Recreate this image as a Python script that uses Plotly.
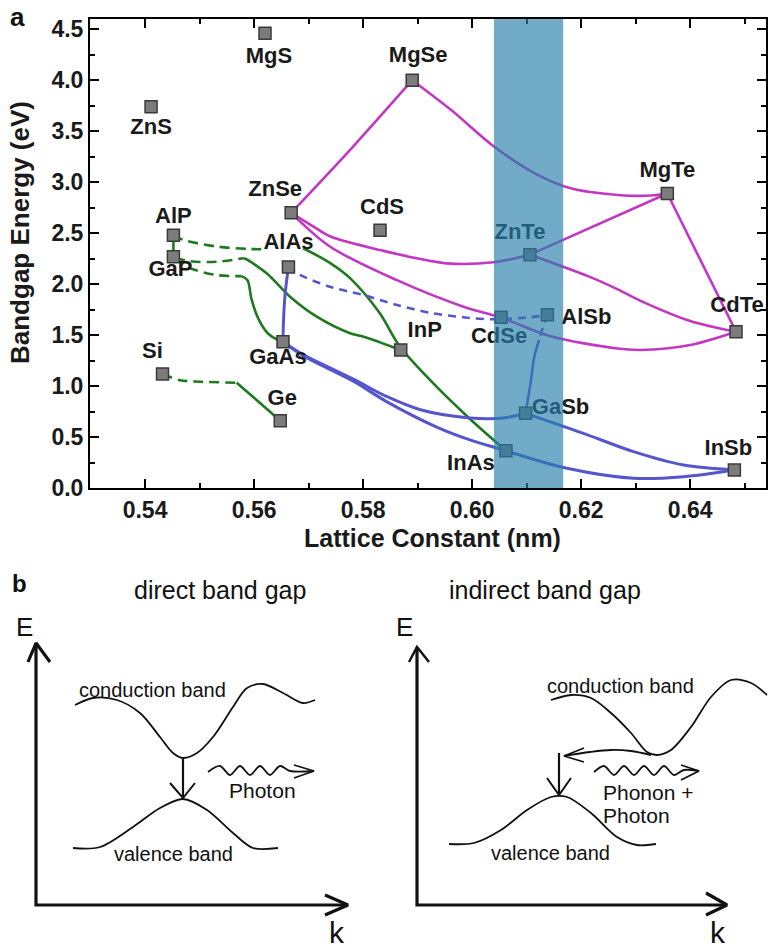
import plotly.graph_objects as go

# ---------------- data: panel a ----------------
names = ["MgS", "ZnS", "MgSe", "MgTe", "ZnSe", "CdS", "AlP", "GaP", "AlAs", "ZnTe",
         "CdSe", "AlSb", "CdTe", "InP", "GaAs", "Si", "Ge", "GaSb", "InAs", "InSb"]
lattice = [0.5620, 0.5411, 0.5890, 0.6358, 0.5668, 0.5831, 0.5452, 0.5452, 0.5663, 0.6106,
           0.6053, 0.6138, 0.6484, 0.5869, 0.5653, 0.5432, 0.5648, 0.6098, 0.6062, 0.6481]
bandgap = [4.46, 3.74, 4.00, 2.89, 2.70, 2.53, 2.48, 2.27, 2.17, 2.29,
           1.676, 1.70, 1.535, 1.356, 1.437, 1.12, 0.663, 0.735, 0.369, 0.18]

# label offsets in pixels (dx right, dy up) from each marker
label_dx = [4, 0, 6, 0, -16, 2, 0, -3, 0, -10, -2, 39, 1, 24, -5, -10, 2, 35, -35, -6]
label_dy = [-24, -22, 24, 22, 22, 22, 18, -14, 23, 21, -20, -4, 25, 18, -17, 22, 21, 5, -14, 20]

# magenta (II-VI) curves
m_znse_mgse_x = [0.5668, 0.5780, 0.5890]
m_znse_mgse_y = [2.70, 3.34, 4.00]
m_mgse_mgte_x = [0.5890, 0.5961, 0.6040, 0.6114, 0.6181, 0.6267, 0.6328, 0.6358]
m_mgse_mgte_y = [4.00, 3.71, 3.35, 3.09, 2.94, 2.875, 2.87, 2.89]
m_znse_znte_x = [0.5668, 0.5709, 0.5739, 0.5831, 0.5954, 0.6039, 0.6106]
m_znse_znte_y = [2.70, 2.565, 2.47, 2.335, 2.205, 2.215, 2.29]
m_znse_cdte_x = [0.5668, 0.5739, 0.5862, 0.5984, 0.6055, 0.6144, 0.6267, 0.6308, 0.6400, 0.6484]
m_znse_cdte_y = [2.70, 2.37, 2.04, 1.78, 1.67, 1.49, 1.37, 1.356, 1.405, 1.535]
m_znte_mgte_x = [0.6106, 0.6358]
m_znte_mgte_y = [2.29, 2.89]
m_znte_cdte_x = [0.6106, 0.6217, 0.6267, 0.6308, 0.6400, 0.6484]
m_znte_cdte_y = [2.29, 2.07, 1.95, 1.84, 1.64, 1.535]
m_mgte_cdte_x = [0.6358, 0.6484]
m_mgte_cdte_y = [2.89, 1.535]

# green curves (solid = direct, dashed = indirect)
g_alp_gap_x = [0.5452, 0.5452]
g_alp_gap_y = [2.48, 2.27]
g_alp_dash_x = [0.5452, 0.5470, 0.5531, 0.5593, 0.5625]
g_alp_dash_y = [2.48, 2.435, 2.37, 2.345, 2.345]
g_alas_inas_x = [0.5690, 0.5739, 0.5776, 0.5830, 0.5866, 0.5923, 0.5996, 0.6062]
g_alas_inas_y = [2.353, 2.21, 2.06, 1.72, 1.40, 1.06, 0.68, 0.369]
g_gap_dash1_x = [0.5455, 0.5483, 0.5531, 0.5580]
g_gap_dash1_y = [2.26, 2.225, 2.22, 2.255]
g_gap_inp_x = [0.5580, 0.5584, 0.5623, 0.5666, 0.5715, 0.5776, 0.5801, 0.5869]
g_gap_inp_y = [2.255, 2.25, 2.108, 1.878, 1.682, 1.52, 1.486, 1.356]
g_gap_dash2_x = [0.5455, 0.5483, 0.5531, 0.5577]
g_gap_dash2_y = [2.25, 2.157, 2.09, 2.08]
g_gap_gaas_x = [0.5577, 0.5588, 0.5595, 0.5608, 0.5625, 0.5645, 0.5653]
g_gap_gaas_y = [2.08, 2.04, 1.86, 1.66, 1.52, 1.45, 1.437]
g_si_dash_x = [0.5432, 0.5464, 0.5501, 0.5568]
g_si_dash_y = [1.12, 1.06, 1.045, 1.035]
g_si_ge_x = [0.5568, 0.5648]
g_si_ge_y = [1.035, 0.663]

# blue curves
b_alas_gaas_x = [0.5663, 0.5657, 0.5654, 0.5653]
b_alas_gaas_y = [2.17, 1.91, 1.65, 1.437]
b_alas_alsb_x = [0.5663, 0.5678, 0.5739, 0.5800, 0.5862, 0.5923, 0.5984, 0.6033, 0.6106, 0.6138]
b_alas_alsb_y = [2.17, 2.108, 1.976, 1.895, 1.797, 1.72, 1.676, 1.657, 1.676, 1.70]
b_alsb_dash_x = [0.6138, 0.6132, 0.6123]
b_alsb_dash_y = [1.70, 1.617, 1.454]
b_alsb_gasb_x = [0.6123, 0.6114, 0.6108, 0.6101, 0.6098]
b_alsb_gasb_y = [1.454, 1.29, 1.06, 0.833, 0.735]
b_gaas_gasb_x = [0.5653, 0.5690, 0.5782, 0.5843, 0.5905, 0.5996, 0.6058, 0.6098]
b_gaas_gasb_y = [1.437, 1.31, 1.07, 0.90, 0.77, 0.69, 0.69, 0.735]
b_gaas_inas_x = [0.5653, 0.5690, 0.5782, 0.5843, 0.5935, 0.5996, 0.6062]
b_gaas_inas_y = [1.437, 1.30, 1.05, 0.85, 0.60, 0.474, 0.369]
b_inas_insb_x = [0.6062, 0.6174, 0.6296, 0.6388, 0.6481]
b_inas_insb_y = [0.369, 0.196, 0.098, 0.114, 0.18]
b_gasb_insb_x = [0.6098, 0.6204, 0.6296, 0.6388, 0.6481]
b_gasb_insb_y = [0.735, 0.539, 0.359, 0.228, 0.18]

band_x0, band_x1 = 0.6040, 0.6167

x_ticks = [0.54, 0.56, 0.58, 0.60, 0.62, 0.64]
y_ticks = [0.0, 0.5, 1.0, 1.5, 2.0, 2.5, 3.0, 3.5, 4.0, 4.5]

# ---------------- data: panel b (schematic, drawing units) ----------------
d_cb_x = [75, 93, 117, 140, 160, 173, 183, 197, 213, 233, 247, 263, 283, 303, 315]
d_cb_y = [705, 698, 700, 713, 737, 753, 758, 753, 737, 707, 688, 684, 693, 703, 700]
d_vb_x = [73, 100, 133, 160, 183, 207, 233, 253, 278]
d_vb_y = [848, 847, 827, 808, 799, 810, 833, 848, 848]
d_wave_x = [208, 220, 230, 240, 250, 260, 270, 280, 290, 314]
d_wave_y = [772, 766, 775, 766, 775, 766, 775, 766, 771, 771]
i_cb_x = [551, 571, 591, 611, 631, 647, 657, 671, 691, 711, 731, 751, 767]
i_cb_y = [700, 695, 698, 713, 733, 752, 755, 750, 727, 697, 680, 683, 695]
i_vb_x = [449, 474, 501, 527, 551, 567, 591, 617, 637, 656]
i_vb_y = [844, 843, 830, 810, 797, 797, 813, 837, 845, 844]
i_wave_x = [594, 604, 614, 624, 634, 644, 654, 664, 674, 684, 699]
i_wave_y = [772, 766, 775, 766, 775, 766, 775, 766, 775, 770, 771]
i_phonon_x = [651, 631, 611, 590, 564]
i_phonon_y = [755, 751, 750, 752, 756]

# ---------------- figure ----------------
W, H = 768, 952
XL, XR, YT, YB = 90, 766, 19, 488.3
xr = [0.5299, 0.6539]
yr = [0.0, 4.6]
FONT = "Liberation Sans, Arial, sans-serif"
MAG, BLU, GRN = "#c238c2", "#5656cc", "#1f7a1f"

fig = go.Figure()


def curve(x, y, color, dash="solid", width=2.6, xa="x", ya="y", shape="spline"):
    fig.add_trace(go.Scatter(x=x, y=y, mode="lines", xaxis=xa, yaxis=ya,
                             line=dict(color=color, width=width, dash=dash,
                                       shape=shape, smoothing=0.9),
                             hoverinfo="skip", showlegend=False))


for cx, cy in [(m_znse_mgse_x, m_znse_mgse_y), (m_mgse_mgte_x, m_mgse_mgte_y),
               (m_znse_znte_x, m_znse_znte_y), (m_znse_cdte_x, m_znse_cdte_y),
               (m_znte_mgte_x, m_znte_mgte_y), (m_znte_cdte_x, m_znte_cdte_y),
               (m_mgte_cdte_x, m_mgte_cdte_y)]:
    curve(cx, cy, MAG)

GD = "10px,6px"
curve(g_alp_gap_x, g_alp_gap_y, GRN)
curve(g_alp_dash_x, g_alp_dash_y, GRN, GD)
curve(g_alas_inas_x, g_alas_inas_y, GRN)
curve(g_gap_dash1_x, g_gap_dash1_y, GRN, GD)
curve(g_gap_inp_x, g_gap_inp_y, GRN)
curve(g_gap_dash2_x, g_gap_dash2_y, GRN, GD)
curve(g_gap_gaas_x, g_gap_gaas_y, GRN)
curve(g_si_dash_x, g_si_dash_y, GRN, GD)
curve(g_si_ge_x, g_si_ge_y, GRN)

BD = "8px,6px"
curve(b_alas_gaas_x, b_alas_gaas_y, BLU, width=3)
curve(b_alas_alsb_x, b_alas_alsb_y, BLU, BD)
curve(b_alsb_dash_x, b_alsb_dash_y, BLU, BD)
curve(b_alsb_gasb_x, b_alsb_gasb_y, BLU)
curve(b_gaas_gasb_x, b_gaas_gasb_y, BLU, width=3)
curve(b_gaas_inas_x, b_gaas_inas_y, BLU, width=3)
curve(b_inas_insb_x, b_inas_insb_y, BLU, width=3)
curve(b_gasb_insb_x, b_gasb_insb_y, BLU, width=3)

fig.add_trace(go.Scatter(x=lattice, y=bandgap, mode="markers",
                         marker=dict(symbol="square", size=12, color="#7c7c7c",
                                     line=dict(color="#3a3a3a", width=1.5)),
                         hoverinfo="skip", showlegend=False))

sx = (xr[1] - xr[0]) / (XR - XL)
sy = (yr[1] - yr[0]) / (YB - YT)
lab_x = [x + dx * sx for x, dx in zip(lattice, label_dx)]
lab_y = [y + dy * sy for y, dy in zip(bandgap, label_dy)]
fig.add_trace(go.Scatter(x=lab_x, y=lab_y, mode="text", text=[f"<b>{n}</b>" for n in names],
                         textposition="middle center", cliponaxis=False,
                         textfont=dict(family=FONT, size=22, color="#1a1a1a"),
                         hoverinfo="skip", showlegend=False))

fig.add_shape(type="rect", xref="x", yref="y", x0=band_x0, x1=band_x1, y0=yr[0], y1=yr[1],
              fillcolor="rgba(40,128,172,0.66)", line=dict(width=0), layer="above")

# ---------------- panel b traces ----------------
K = "#111111"
curve(d_cb_x, d_cb_y, K, width=1.8, xa="x2", ya="y2")
curve(d_vb_x, d_vb_y, K, width=1.8, xa="x2", ya="y2")
curve(d_wave_x, d_wave_y, K, width=1.8, xa="x2", ya="y2")
curve(i_cb_x, i_cb_y, K, width=1.8, xa="x2", ya="y2")
curve(i_vb_x, i_vb_y, K, width=1.8, xa="x2", ya="y2")
curve(i_wave_x, i_wave_y, K, width=1.8, xa="x2", ya="y2")
curve(i_phonon_x, i_phonon_y, K, width=1.8, xa="x2", ya="y2")

lin = "linear"
curve([36, 36, 348], [643, 905, 905], K, width=3.2, xa="x2", ya="y2", shape=lin)
curve([28, 36, 50], [662, 643, 662], K, width=3.2, xa="x2", ya="y2", shape=lin)
curve([325, 348, 325], [895, 905, 915], K, width=3.2, xa="x2", ya="y2", shape=lin)
curve([417, 417, 727], [647, 905, 905], K, width=3.2, xa="x2", ya="y2", shape=lin)
curve([409, 417, 429], [662, 647, 662], K, width=2.4, xa="x2", ya="y2", shape=lin)
curve([706, 727, 706], [893, 905, 915], K, width=3.2, xa="x2", ya="y2", shape=lin)
curve([183, 183], [758, 798], K, width=2.2, xa="x2", ya="y2", shape=lin)
curve([170, 183, 195], [783, 798, 783], K, width=2.0, xa="x2", ya="y2", shape=lin)
curve([294, 314, 294], [765, 771, 778], K, width=1.8, xa="x2", ya="y2", shape=lin)
curve([559, 559], [753, 795], K, width=2.2, xa="x2", ya="y2", shape=lin)
curve([547, 559, 571], [778, 795, 778], K, width=2.0, xa="x2", ya="y2", shape=lin)
curve([681, 699, 681], [765, 771, 780], K, width=1.8, xa="x2", ya="y2", shape=lin)
curve([584, 564, 584], [748, 756, 762], K, width=1.8, xa="x2", ya="y2", shape=lin)

# ---------------- annotations ----------------
ann = []


def txt(px, py, s, size, bold=False, angle=0, xanchor="center", color="#111"):
    ann.append(dict(x=px / W, y=1 - py / H, xref="paper", yref="paper",
                    text=f"<b>{s}</b>" if bold else s,
                    showarrow=False, xanchor=xanchor, yanchor="middle", textangle=angle,
                    font=dict(family=FONT, size=size, color=color)))


txt(17, 17, "a", 26, True)
txt(432, 538, "Lattice Constant (nm)", 25, True, color="#1a1a1a")
txt(20, 233, "Bandgap Energy (eV)", 26, True, angle=-90, color="#1a1a1a")
txt(19, 583, "b", 24, True)
txt(220, 590, "direct band gap", 25)
txt(545, 590, "indirect band gap", 25)
txt(24, 627, "E", 26)
txt(404, 627, "E", 26)
txt(337, 932, "k", 30)
txt(718, 932, "k", 30)
txt(152, 690, "conduction band", 20)
txt(173, 854, "valence band", 20)
txt(262, 790, "Photon", 21)
txt(620, 686, "conduction band", 20)
txt(550, 853, "valence band", 20)
txt(601, 792, "Phonon +", 21, xanchor="left")
txt(601, 815, "Photon", 21, xanchor="left")

axis_common = dict(showline=True, linecolor="black", linewidth=2, mirror="ticks",
                   ticks="inside", tickcolor="black", tickwidth=2, ticklen=9,
                   showgrid=False, zeroline=False, automargin=False,
                   tickfont=dict(family=FONT, size=23, color="#1a1a1a"))

fig.update_layout(
    template="none",
    width=W, height=H, margin=dict(l=0, r=0, t=0, b=0, autoexpand=False),
    paper_bgcolor="white", plot_bgcolor="white", showlegend=False,
    xaxis=dict(domain=[XL / W, XR / W], range=xr, anchor="y",
               tickvals=x_ticks, ticktext=[f"<b>{v:.2f}</b>" for v in x_ticks],
               minor=dict(dtick=0.01, tick0=0.53, ticks="inside", ticklen=5,
                          tickcolor="black", tickwidth=1.5, showgrid=False),
               **axis_common),
    yaxis=dict(domain=[1 - YB / H, 1 - YT / H], range=yr, anchor="x",
               tickvals=y_ticks, ticktext=[f"<b>{v:.1f}</b>" for v in y_ticks],
               minor=dict(dtick=0.25, tick0=0, ticks="inside", ticklen=5,
                          tickcolor="black", tickwidth=1.5, showgrid=False),
               **axis_common),
    xaxis2=dict(domain=[0, 1], range=[0, W], anchor="y2", visible=False, automargin=False),
    yaxis2=dict(domain=[0, (H - 555) / H], range=[H, 555], anchor="x2", visible=False,
                automargin=False),
    annotations=ann,
)

fig.write_html("out.html", config={"displayModeBar": False},
               post_script="document.body.style.margin='0';document.body.style.overflow='hidden';")
